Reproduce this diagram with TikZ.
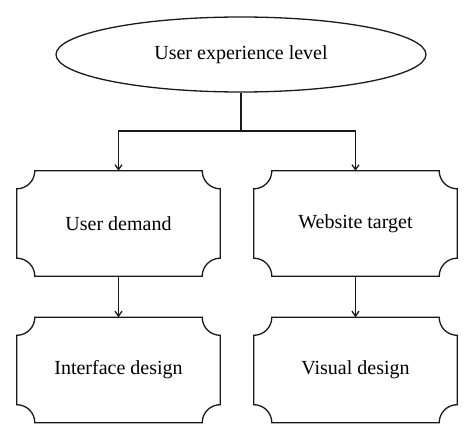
\documentclass[tikz,border=0pt]{standalone}
\usepackage{fontspec}
\setmainfont{Liberation Serif}
\usetikzlibrary{shapes.geometric,arrows.meta}
\tikzset{
  link/.style={line width=1.3pt, draw=black!90},
  notchbox/.style={minimum width=203pt, minimum height=105pt, inner sep=0pt, font=\fontsize{20}{24}\selectfont},
  tip/.style={-{Straight Barb[length=5pt,width=7pt]}},
}
\begin{document}
\begin{tikzpicture}[x=1pt,y=1pt]
\useasboundingbox (0,0) rectangle (474,440);
\def\xl{118.5};
\def\xc{241};
\def\xr{355.5};

\def\ya{70};
\def\yb{216.5};
\def\yc{385.5};
\def\ys{309};
\def\rc{18pt}

\node[ellipse, link, draw, minimum width=370pt, minimum height=75pt, inner sep=0pt, font=\fontsize{20}{24}\selectfont] (top) at (\xc, \yc) {User experience level};

\node[notchbox] (dem) at (\xl, \yb) {User demand};
\node[notchbox] (tar) at (\xr, \yb) {Website target};
\node[notchbox] (ifc) at (\xl, \ya) {Interface design};
\node[notchbox] (vis) at (\xr, \ya) {Visual design};

% box outlines with notched corners
\foreach \n in {dem,tar,ifc,vis}
  \draw[link] ([xshift=\rc]\n.north west) -- ([xshift=-\rc]\n.north east)
    arc[start angle=180, end angle=270, radius=\rc] -- ([yshift=\rc]\n.south east)
    arc[start angle=90, end angle=180, radius=\rc] -- ([xshift=\rc]\n.south west)
    arc[start angle=0, end angle=90, radius=\rc] -- ([yshift=-\rc]\n.north west)
    arc[start angle=270, end angle=360, radius=\rc] -- cycle;

\coordinate (split) at (\xc, \ys);

\draw[link] (top) -- (split);
\draw[link, tip] (split) -| (dem);
\draw[link, tip] (split) -| (tar);
\draw[link, tip] (dem) -- (ifc);
\draw[link, tip] (tar) -- (vis);

\end{tikzpicture}
\end{document}
